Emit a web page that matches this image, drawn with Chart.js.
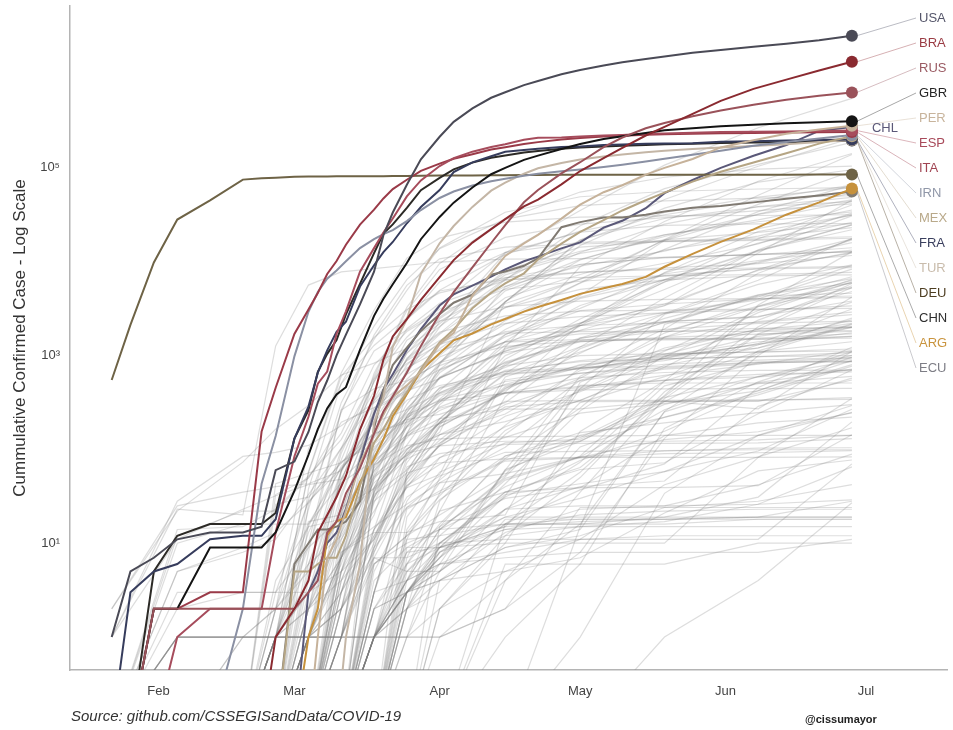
<!DOCTYPE html>
<html>
<head>
<meta charset="utf-8">
<script src="https://cdn.jsdelivr.net/npm/chart.js@4.4.1/dist/chart.umd.min.js"></script>
<style>
  html, body { margin: 0; padding: 0; background: #fff; }
  #wrap { width: 953px; height: 730px; }
</style>
</head>
<body>
<div id="wrap"><canvas id="c" width="953" height="730"></canvas></div>
<script>
// day of year 2020 (Jan 1 = 1)
const H_DAYS = [22, 26, 31, 36, 43, 50, 54, 57, 61, 64,
  66, 68, 70, 72, 75, 78, 80, 82, 85, 88,
  92, 95, 99, 103, 106, 110, 113, 118, 122, 127,
  131, 136, 140, 146, 152, 159, 166, 173, 180];

const usa = [1, 5, 7, 11, 13, 13, 15, 60, 74, 153,
  319, 541, 1000, 1670, 3500, 7800, 19100, 33300, 65800, 123000,
  213600, 308000, 429000, 556000, 636000, 759000, 840000, 988000, 1100000, 1230000,
  1330000, 1440000, 1530000, 1680000, 1790000, 1940000, 2090000, 2280000, 2550000];
const bra = [0, 0, 0, 0, 0, 0, 0, 1, 2, 4,
  13, 20, 31, 52, 162, 372, 904, 1593, 2433, 3904,
  6836, 10360, 15927, 22192, 28320, 38654, 45757, 66501, 92202, 126611,
  162699, 220291, 271885, 374898, 514849, 691758, 867624, 1083341, 1344143];
const rus = [0, 0, 2, 2, 2, 2, 2, 2, 2, 3,
  4, 13, 17, 34, 63, 147, 253, 367, 658, 1264,
  2777, 4731, 8672, 15770, 24490, 42853, 57999, 87147, 114431, 165929,
  209688, 262843, 299941, 353427, 405843, 467673, 528267, 583879, 634437];
const gbr = [0, 0, 2, 2, 9, 9, 9, 13, 36, 87,
  164, 273, 384, 459, 1144, 2642, 4014, 5741, 9640, 17312,
  29865, 42477, 61474, 85206, 99483, 121172, 134638, 158348, 178685, 202359,
  216525, 234440, 250138, 262547, 276332, 286294, 296857, 304331, 311965];
const per = [0, 0, 0, 0, 0, 0, 0, 0, 0, 0,
  1, 7, 11, 22, 71, 145, 234, 363, 480, 671,
  1323, 1746, 4342, 7519, 11475, 15628, 19250, 28699, 40459, 54817,
  65015, 84495, 99483, 123979, 164476, 196515, 229736, 254936, 279419];
const esp = [0, 0, 0, 1, 2, 2, 2, 13, 84, 222,
  500, 673, 1695, 2950, 7798, 13910, 20410, 28768, 49515, 73235,
  104118, 126168, 148220, 166019, 177633, 198674, 208389, 209465, 215216, 220325,
  223578, 229540, 232037, 235400, 239479, 241310, 243605, 246272, 248770];
const ita = [0, 0, 2, 2, 3, 3, 155, 453, 1694, 3089,
  4636, 7375, 10149, 15113, 24747, 35713, 47021, 59138, 74386, 92472,
  110574, 124632, 139422, 156363, 165155, 178972, 187327, 199414, 207428, 214457,
  219070, 223885, 226699, 230158, 232997, 234998, 236989, 238499, 240310];
const irn = [0, 0, 0, 0, 0, 2, 43, 139, 978, 2922,
  4747, 6566, 8042, 10075, 13938, 17361, 19644, 21638, 27017, 35408,
  47593, 55743, 64586, 71686, 76389, 82211, 85996, 91472, 95646, 101650,
  107603, 116635, 124603, 137724, 151466, 171789, 187427, 204952, 222669];
const mex = [0, 0, 0, 0, 0, 0, 0, 0, 5, 5,
  6, 7, 7, 12, 41, 118, 164, 251, 405, 717,
  1378, 1890, 3181, 4661, 5847, 7497, 10544, 15529, 20739, 27634,
  35022, 45032, 54346, 71105, 90664, 113619, 142690, 180545, 216852];
const fra = [0, 3, 5, 6, 11, 12, 12, 18, 130, 285,
  656, 1134, 1784, 2284, 5423, 9134, 12612, 16176, 25600, 38105,
  57749, 89953, 113959, 132591, 147863, 154097, 159297, 165842, 168518, 174224,
  176782, 179630, 180933, 182584, 188625, 191102, 194379, 196874, 199473];
const tur = [0, 0, 0, 0, 0, 0, 0, 0, 0, 0,
  0, 0, 0, 1, 6, 191, 359, 1236, 2433, 7402,
  15679, 23934, 38226, 56956, 69392, 86306, 98674, 112261, 122392, 131744,
  138657, 146457, 151615, 157814, 163942, 170132, 178239, 187685, 197239];
const deu = [0, 0, 5, 12, 16, 16, 16, 21, 130, 262,
  670, 1040, 1457, 2745, 5795, 12327, 19848, 24873, 37323, 57695,
  77872, 96092, 113296, 127854, 134753, 145184, 150648, 158758, 164077, 168162,
  171324, 174975, 177778, 180458, 183271, 185674, 187226, 190862, 194458];
const chn = [548, 2116, 9802, 28018, 44802, 74680, 77042, 78191, 79932, 80422,
  80651, 80770, 80921, 80981, 81058, 81156, 81251, 81435, 81749, 81999,
  82361, 82575, 82809, 83134, 83352, 83805, 83868, 83912, 83959, 83970,
  84010, 84038, 84063, 84102, 84128, 84186, 84335, 84573, 84744];
const arg = [0, 0, 0, 0, 0, 0, 0, 0, 0, 1,
  2, 12, 17, 19, 45, 79, 128, 225, 387, 690,
  1054, 1451, 1715, 2142, 2443, 2930, 3288, 3892, 4532, 5208,
  5776, 6879, 8809, 12076, 16214, 22020, 31577, 42785, 59933];
const ecu = [0, 0, 0, 0, 0, 0, 0, 0, 6, 10,
  14, 14, 15, 17, 28, 168, 426, 789, 1211, 1823,
  2748, 3646, 4450, 7257, 7858, 9022, 10850, 23240, 26336, 29559,
  29420, 31467, 34151, 37355, 39098, 42728, 46751, 50640, 55665];
const chl = [0, 0, 0, 0, 0, 0, 0, 0, 0, 3,
  5, 10, 13, 23, 75, 238, 434, 632, 1142, 1909,
  3404, 4471, 5546, 6927, 8273, 10088, 11296, 13813, 16023, 23048,
  27219, 37040, 53617, 73997, 99688, 134150, 174293, 246963, 271982];

// the rest of the world, sparser sampling
const G_DAYS = [22, 36, 50, 57, 64, 71, 78, 85, 92, 106, 122, 140, 160, 180];
const otherNames = ['CAN', 'IND', 'PAK', 'SAU', 'BGD', 'ZAF', 'QAT', 'COL', 'BEL', 'SWE', 'NLD', 'EGY', 'IDN', 'ARE', 'SGP', 'PRT', 'POL', 'CHE', 'JPN', 'KOR',
  'NPL', 'KHM', 'LKA', 'VNM', 'THA', 'MYS', 'AUS', 'FIN', 'PHL', 'ISR', 'IRL', 'AUT', 'DNK', 'NOR', 'CZE', 'MAR', 'DZA', 'NGA', 'GHA', 'KEN',
  'ETH', 'CUB', 'NZL', 'ISL', 'VEN', 'CRI', 'URY', 'JOR', 'LBN', 'MNG', 'FJI', 'LAO', 'PNG', 'BTN', 'TLS', 'VAT', 'BLZ', 'GRD', 'DMA', 'KNA',
  'ESH', 'BDI', 'KAZ', 'BLR', 'UKR', 'ROU', 'BOL', 'PAN', 'DOM', 'GTM', 'HTI', 'IRQ', 'AFG', 'MDG', 'SMR', 'AND', 'LIE', 'MCO', 'SYC', 'ATG',
  'BRB', 'GMB', 'BWA', 'MWI', 'SUR', 'MUS', 'BRN', 'MNE', 'GRC', 'HUN', 'TUN', 'SVK', 'HRV', 'SEN', 'CMR', 'SDN', 'SLV', 'HND', 'PRY', 'ARM',
  'KWT', 'OMN', 'BHR', 'SRB', 'MDA', 'AZE', 'BIH', 'MKD', 'BGR', 'SVN', 'LTU', 'LVA', 'EST', 'LUX', 'CYP', 'MLT', 'ALB', 'GEO', 'UZB', 'KGZ',
  'TJK', 'CIV', 'COD', 'GIN', 'MLI', 'NER', 'BFA', 'GAB', 'ZWE', 'UGA', 'RWA', 'TZA', 'MOZ', 'AGO', 'NAM', 'SWZ', 'LSO', 'COM', 'YEM', 'SSD',
  'STP', 'SYR', 'LBY', 'SOM', 'DJI', 'MRT', 'TCD', 'CAF', 'JAM', 'TTO', 'BHS', 'GUY', 'NIC', 'MMR', 'MDV', 'TWN', 'XKX', 'GNQ', 'LBR', 'SLE',
  'TGO', 'BEN', 'ERI', 'CPV', 'GNB', 'LCA', 'VCT'];
const otherValues = [
  [0, 5, 8, 11, 33, 103, 598, 3251, 9560, 28379, 55061, 79112, 96653, 103918],
  [0, 3, 3, 3, 28, 62, 151, 657, 1998, 12322, 35043, 106475, 266598, 548318],
  [0, 0, 0, 2, 5, 20, 247, 1063, 2039, 6505, 16817, 45898, 103671, 206512],
  [0, 0, 0, 0, 1, 21, 238, 900, 1720, 6380, 24097, 59854, 108571, 186436],
  [0, 0, 0, 0, 0, 3, 14, 39, 54, 1231, 8790, 26738, 71675, 141801],
  [0, 0, 0, 0, 1, 13, 116, 709, 1380, 2506, 5951, 17200, 50879, 138134],
  [0, 0, 0, 0, 8, 262, 442, 537, 835, 3711, 14872, 37097, 70158, 95106],
  [0, 0, 0, 0, 0, 9, 93, 470, 1065, 3233, 6507, 16935, 40719, 91769],
  [0, 1, 1, 1, 23, 314, 1486, 4937, 13964, 33573, 49032, 55791, 59348, 61361],
  [0, 1, 1, 2, 101, 500, 1279, 2526, 4947, 11927, 21092, 31523, 45133, 65137],
  [0, 0, 0, 0, 38, 503, 2051, 6438, 13696, 28316, 39512, 44249, 47335, 50273],
  [0, 0, 1, 1, 2, 60, 196, 456, 710, 2350, 5895, 13484, 34079, 65188],
  [0, 0, 0, 0, 2, 34, 227, 790, 1677, 5136, 10551, 18496, 32033, 54010],
  [0, 5, 9, 13, 27, 74, 113, 248, 814, 5365, 12481, 25063, 38642, 48246],
  [1, 28, 84, 93, 110, 178, 313, 631, 1000, 3699, 17101, 28794, 38296, 43459],
  [0, 0, 0, 0, 4, 59, 642, 2995, 8251, 18091, 25045, 29432, 34885, 41189],
  [0, 0, 0, 0, 1, 31, 251, 1051, 2554, 7582, 12877, 19268, 26561, 33907],
  [0, 0, 0, 1, 58, 652, 3028, 10897, 17768, 26336, 29705, 30694, 30965, 31555],
  [2, 22, 73, 164, 293, 620, 829, 1193, 2178, 8100, 14281, 16385, 17210, 18390],
  [1, 23, 20, 1261, 5621, 7755, 8413, 9137, 9887, 10613, 10774, 11110, 11852, 12757],
  [0, 1, 1, 1, 1, 1, 1, 3, 5, 16, 57, 375, 3448, 12772],
  [0, 1, 1, 1, 1, 3, 35, 91, 109, 122, 122, 122, 126, 141],
  [0, 1, 1, 1, 1, 2, 53, 102, 143, 238, 690, 1027, 1835, 2037],
  [0, 10, 16, 16, 16, 44, 76, 141, 212, 268, 270, 324, 331, 355],
  [2, 25, 35, 40, 43, 59, 212, 934, 1771, 2643, 2960, 3033, 3119, 3169],
  [0, 12, 22, 22, 50, 149, 790, 1796, 2908, 5072, 6176, 6978, 8336, 8634],
  [0, 14, 15, 23, 52, 127, 568, 2423, 4862, 6447, 6765, 7068, 7265, 7686],
  [0, 1, 1, 2, 6, 59, 336, 880, 1446, 3237, 5051, 6399, 7040, 7209],
  [0, 2, 3, 3, 3, 49, 202, 636, 2311, 5453, 8928, 12942, 22474, 35455],
  [0, 0, 0, 2, 15, 77, 529, 2369, 6092, 12501, 16004, 16659, 17863, 23025],
  [0, 0, 0, 0, 6, 43, 557, 1564, 3447, 12547, 20612, 24315, 25201, 25437],
  [0, 0, 0, 2, 29, 246, 1646, 5588, 10711, 14226, 15402, 16321, 16843, 17723],
  [0, 0, 0, 1, 10, 264, 1115, 1862, 3107, 6681, 9311, 11117, 11948, 12675],
  [0, 0, 0, 1, 56, 598, 1552, 3084, 4641, 6740, 7738, 8257, 8547, 8879],
  [0, 0, 0, 0, 5, 91, 522, 1925, 3589, 6303, 7689, 8586, 9529, 11603],
  [0, 0, 0, 0, 1, 6, 54, 225, 654, 1888, 4569, 7133, 8437, 12290],
  [0, 0, 0, 1, 17, 20, 74, 302, 847, 2160, 4154, 7377, 10265, 13273],
  [0, 0, 0, 0, 1, 2, 8, 51, 174, 407, 2170, 6401, 12801, 24567],
  [0, 0, 0, 0, 0, 0, 11, 93, 195, 641, 2074, 6096, 9910, 17351],
  [0, 0, 0, 0, 0, 0, 3, 28, 81, 225, 411, 963, 2862, 6070],
  [0, 0, 0, 0, 0, 0, 6, 12, 29, 85, 133, 365, 2020, 5846],
  [0, 0, 0, 0, 0, 4, 11, 57, 212, 814, 1537, 1900, 2200, 2325],
  [0, 0, 0, 0, 3, 5, 20, 205, 708, 1386, 1479, 1503, 1504, 1528],
  [0, 0, 0, 0, 26, 103, 330, 737, 1135, 1727, 1797, 1802, 1807, 1836],
  [0, 0, 0, 0, 0, 0, 36, 91, 143, 197, 331, 749, 2377, 5530],
  [0, 0, 0, 0, 0, 22, 69, 201, 375, 626, 719, 882, 1342, 3130],
  [0, 0, 0, 0, 0, 0, 79, 217, 338, 483, 648, 738, 845, 936],
  [0, 0, 0, 0, 1, 1, 69, 172, 274, 401, 453, 613, 808, 1121],
  [0, 0, 1, 1, 13, 66, 133, 333, 479, 641, 729, 931, 1331, 1745],
  [0, 0, 0, 0, 0, 1, 6, 10, 14, 30, 39, 140, 191, 220],
  [0, 0, 0, 0, 0, 0, 1, 5, 5, 16, 18, 18, 18, 18],
  [0, 0, 0, 0, 0, 0, 0, 3, 9, 19, 19, 19, 19, 19],
  [0, 0, 0, 0, 0, 0, 1, 1, 1, 2, 8, 8, 8, 11],
  [0, 0, 0, 0, 1, 1, 1, 3, 4, 5, 7, 21, 59, 77],
  [0, 0, 0, 0, 0, 0, 0, 1, 1, 2, 24, 24, 24, 24],
  [0, 0, 0, 0, 0, 0, 1, 4, 6, 8, 11, 12, 12, 12],
  [0, 0, 0, 0, 0, 0, 0, 2, 3, 18, 18, 18, 19, 28],
  [0, 0, 0, 0, 0, 0, 0, 9, 9, 14, 20, 22, 23, 23],
  [0, 0, 0, 0, 0, 0, 0, 11, 12, 16, 16, 16, 18, 18],
  [0, 0, 0, 0, 0, 0, 0, 2, 8, 14, 15, 15, 15, 15],
  [0, 0, 0, 0, 0, 0, 0, 0, 0, 6, 6, 6, 10, 10],
  [0, 0, 0, 0, 0, 0, 0, 0, 2, 5, 11, 42, 83, 170],
  [0, 0, 0, 0, 0, 0, 37, 111, 343, 1295, 3402, 6440, 13158, 21819],
  [0, 0, 0, 1, 6, 12, 51, 86, 152, 3728, 16705, 33371, 48630, 61475],
  [0, 0, 0, 0, 1, 1, 14, 145, 804, 3764, 10406, 19230, 27856, 43628],
  [0, 0, 0, 1, 4, 48, 246, 906, 2460, 7216, 12240, 17036, 20479, 25286],
  [0, 0, 0, 0, 0, 3, 12, 39, 115, 441, 1230, 4088, 13358, 30676],
  [0, 0, 0, 0, 0, 14, 137, 558, 1181, 3574, 6532, 9606, 15463, 32785],
  [0, 0, 0, 0, 1, 5, 34, 392, 1284, 4126, 7288, 13223, 18708, 31373],
  [0, 0, 0, 0, 0, 1, 9, 24, 47, 180, 735, 1912, 7502, 17409],
  [0, 0, 0, 0, 0, 0, 2, 8, 15, 40, 85, 533, 3334, 5975],
  [0, 0, 0, 26, 31, 71, 192, 266, 694, 1400, 2219, 3404, 12366, 45402],
  [0, 0, 0, 1, 1, 7, 22, 84, 192, 784, 2171, 7653, 20917, 31238],
  [0, 0, 0, 0, 0, 0, 0, 19, 57, 117, 128, 322, 1052, 2138],
  [0, 0, 0, 0, 16, 63, 144, 208, 236, 397, 580, 658, 692, 698],
  [0, 0, 0, 0, 1, 1, 39, 188, 390, 673, 745, 761, 852, 855],
  [0, 0, 0, 0, 0, 4, 28, 56, 72, 79, 82, 82, 82, 83],
  [0, 0, 0, 0, 1, 2, 7, 31, 52, 93, 95, 97, 99, 99],
  [0, 0, 0, 0, 0, 0, 7, 7, 10, 11, 11, 11, 11, 70],
  [0, 0, 0, 0, 0, 0, 1, 3, 7, 23, 25, 25, 26, 65],
  [0, 0, 0, 0, 0, 0, 5, 24, 34, 75, 81, 90, 92, 97],
  [0, 0, 0, 0, 0, 0, 1, 3, 4, 9, 12, 24, 28, 42],
  [0, 0, 0, 0, 0, 0, 0, 0, 4, 13, 23, 25, 42, 89],
  [0, 0, 0, 0, 0, 0, 0, 0, 0, 16, 37, 70, 455, 1224],
  [0, 0, 0, 0, 0, 0, 1, 8, 9, 10, 10, 10, 82, 347],
  [0, 0, 0, 0, 0, 0, 3, 48, 143, 324, 332, 332, 337, 341],
  [0, 0, 0, 0, 0, 1, 68, 109, 129, 136, 138, 141, 141, 141],
  [0, 0, 0, 0, 0, 0, 3, 52, 109, 283, 322, 324, 324, 548],
  [0, 0, 0, 1, 9, 99, 418, 821, 1314, 2192, 2591, 2840, 3058, 3376],
  [0, 0, 0, 0, 2, 13, 58, 226, 585, 1579, 2998, 3535, 4007, 4135],
  [0, 0, 0, 0, 1, 7, 39, 173, 455, 780, 994, 1045, 1087, 1172],
  [0, 0, 0, 0, 0, 7, 105, 216, 400, 835, 1403, 1511, 1530, 1700],
  [0, 0, 0, 3, 9, 19, 81, 442, 963, 1791, 2085, 2232, 2247, 2725],
  [0, 0, 0, 0, 2, 4, 31, 99, 190, 314, 1182, 2480, 4427, 6586],
  [0, 0, 0, 0, 0, 2, 10, 72, 193, 996, 2077, 3529, 8060, 12592],
  [0, 0, 0, 0, 0, 0, 1, 3, 7, 32, 442, 2728, 5714, 9257],
  [0, 0, 0, 0, 0, 0, 1, 13, 32, 159, 424, 1112, 3015, 6438],
  [0, 0, 0, 0, 0, 2, 12, 52, 172, 426, 1055, 2798, 6327, 17658],
  [0, 0, 0, 0, 0, 5, 11, 41, 69, 174, 333, 786, 1202, 1987],
  [0, 0, 0, 1, 1, 1, 84, 249, 571, 1111, 2210, 5041, 13130, 24645],
  [0, 0, 0, 43, 56, 72, 148, 195, 317, 1405, 4377, 16764, 31848, 45524],
  [0, 0, 0, 4, 15, 18, 39, 99, 210, 910, 2447, 6043, 17486, 40070],
  [0, 0, 0, 33, 49, 195, 278, 419, 567, 1671, 3170, 7532, 15731, 26239],
  [0, 0, 0, 0, 0, 5, 83, 384, 1060, 4873, 9362, 10919, 11896, 14046],
  [0, 0, 0, 0, 0, 3, 30, 149, 423, 1662, 4052, 6340, 9700, 15900],
  [0, 0, 0, 1, 3, 11, 44, 87, 298, 1197, 1854, 3387, 8191, 17000],
  [0, 0, 0, 0, 2, 7, 63, 176, 579, 1110, 1839, 2290, 2606, 3800],
  [0, 0, 0, 1, 1, 7, 31, 177, 329, 854, 1442, 1817, 3364, 6300],
  [0, 0, 0, 0, 0, 7, 92, 264, 399, 747, 1506, 2292, 2560, 4800],
  [0, 0, 0, 0, 1, 57, 275, 528, 841, 1248, 1429, 1466, 1487, 1600],
  [0, 0, 0, 1, 1, 3, 49, 274, 581, 1070, 1399, 1562, 1689, 1800],
  [0, 0, 0, 0, 1, 16, 86, 221, 446, 675, 879, 1030, 1088, 1116],
  [0, 0, 0, 1, 2, 17, 267, 404, 779, 1400, 1700, 1800, 1940, 1983],
  [0, 0, 0, 0, 2, 7, 345, 1453, 2319, 3307, 3784, 3958, 4030, 4300],
  [0, 0, 0, 0, 0, 2, 67, 132, 320, 695, 857, 922, 970, 996],
  [0, 0, 0, 0, 0, 5, 48, 139, 188, 399, 468, 546, 630, 670],
  [0, 0, 0, 0, 0, 11, 59, 146, 259, 494, 782, 964, 1300, 2400],
  [0, 0, 0, 1, 3, 24, 38, 79, 117, 300, 539, 715, 818, 900],
  [0, 0, 0, 0, 0, 0, 33, 60, 181, 1165, 2086, 2860, 4000, 8300],
  [0, 0, 0, 0, 0, 0, 3, 44, 111, 466, 746, 1138, 1900, 5300],
  [0, 0, 0, 0, 0, 0, 0, 0, 0, 0, 15, 2140, 4400, 5900],
  [0, 0, 0, 0, 0, 1, 9, 80, 194, 626, 1238, 2231, 4200, 9100],
  [0, 0, 0, 0, 0, 1, 14, 48, 109, 267, 572, 1731, 3800, 6900],
  [0, 0, 0, 0, 0, 0, 1, 4, 22, 363, 1537, 2800, 3900, 5300],
  [0, 0, 0, 0, 0, 0, 0, 2, 28, 144, 544, 931, 1600, 2200],
  [0, 0, 0, 0, 0, 0, 0, 7, 34, 548, 728, 920, 970, 1070],
  [0, 0, 0, 0, 0, 2, 27, 146, 282, 528, 645, 806, 890, 950],
  [0, 0, 0, 0, 0, 0, 1, 6, 16, 80, 276, 1567, 3300, 5200],
  [0, 0, 0, 0, 0, 0, 0, 3, 8, 23, 40, 46, 287, 574],
  [0, 0, 0, 0, 0, 0, 0, 14, 44, 55, 83, 264, 600, 870],
  [0, 0, 0, 0, 0, 0, 8, 41, 82, 134, 243, 308, 420, 960],
  [0, 0, 0, 0, 0, 0, 6, 12, 20, 53, 480, 509, 509, 509],
  [0, 0, 0, 0, 0, 0, 0, 3, 10, 31, 76, 156, 424, 880],
  [0, 0, 0, 0, 0, 0, 0, 3, 8, 19, 30, 58, 96, 267],
  [0, 0, 0, 0, 0, 0, 3, 4, 14, 16, 16, 19, 31, 196],
  [0, 0, 0, 0, 0, 0, 1, 4, 9, 15, 106, 220, 400, 800],
  [0, 0, 0, 0, 0, 0, 0, 0, 0, 0, 0, 1, 4, 27],
  [0, 0, 0, 0, 0, 0, 0, 0, 0, 0, 1, 34, 141, 293],
  [0, 0, 0, 0, 0, 0, 0, 0, 0, 1, 6, 167, 524, 1100],
  [0, 0, 0, 0, 0, 0, 0, 0, 1, 4, 35, 347, 1670, 2000],
  [0, 0, 0, 0, 0, 0, 0, 0, 0, 4, 16, 251, 513, 715],
  [0, 0, 0, 0, 0, 0, 0, 5, 10, 33, 43, 58, 141, 248],
  [0, 0, 0, 0, 0, 0, 0, 1, 10, 35, 61, 72, 239, 700],
  [0, 0, 0, 0, 0, 0, 1, 1, 5, 60, 601, 1573, 2300, 2900],
  [0, 0, 0, 0, 0, 0, 1, 11, 49, 591, 1089, 2270, 4300, 4600],
  [0, 0, 0, 0, 0, 0, 1, 2, 6, 7, 8, 131, 1000, 4200],
  [0, 0, 0, 0, 0, 0, 0, 3, 5, 23, 73, 474, 840, 866],
  [0, 0, 0, 0, 0, 0, 1, 3, 6, 12, 50, 411, 1700, 3700],
  [0, 0, 0, 0, 0, 8, 15, 26, 44, 105, 442, 544, 591, 702],
  [0, 0, 0, 0, 0, 0, 9, 65, 90, 113, 116, 116, 117, 130],
  [0, 0, 0, 0, 0, 0, 1, 4, 14, 49, 83, 96, 103, 104],
  [0, 0, 0, 0, 0, 1, 7, 5, 12, 47, 82, 127, 154, 245],
  [0, 0, 0, 0, 0, 0, 1, 2, 4, 9, 14, 254, 1118, 2170],
  [0, 0, 0, 0, 0, 0, 0, 0, 15, 85, 151, 191, 246, 299],
  [0, 0, 0, 0, 0, 8, 13, 13, 17, 20, 519, 1200, 1900, 2300],
  [1, 11, 23, 32, 42, 48, 100, 235, 329, 395, 429, 440, 443, 447],
  [0, 0, 0, 0, 0, 0, 0, 61, 125, 449, 799, 989, 1200, 2500],
  [0, 0, 0, 0, 0, 0, 4, 9, 14, 51, 315, 594, 1300, 2000],
  [0, 0, 0, 0, 0, 0, 2, 3, 7, 59, 141, 219, 380, 770],
  [0, 0, 0, 0, 0, 0, 0, 0, 2, 10, 155, 534, 1100, 1400],
  [0, 0, 0, 0, 0, 1, 1, 23, 36, 77, 123, 301, 500, 600],
  [0, 0, 0, 0, 0, 0, 2, 6, 9, 35, 64, 327, 270, 1100],
  [0, 0, 0, 0, 0, 0, 0, 6, 22, 35, 39, 39, 41, 143],
  [0, 0, 0, 0, 0, 0, 0, 4, 6, 61, 121, 356, 592, 1000],
  [0, 0, 0, 0, 0, 0, 0, 2, 9, 43, 257, 990, 1400, 1600],
  [0, 0, 0, 0, 0, 0, 2, 3, 9, 15, 17, 18, 19, 19],
  [0, 0, 0, 0, 0, 1, 1, 1, 2, 12, 15, 17, 26, 29]
];

const MONTH_TICKS = [32, 61, 92, 122, 153, 183];
const MONTH_LABELS = ['Feb', 'Mar', 'Apr', 'May', 'Jun', 'Jul'];
const Y_TICKS = [10, 1000, 100000];
const Y_TICK_LABELS = ['10\u00b9', '10\u00b3', '10\u2075'];

// highlighted countries, in the order their labels are stacked on the right
const highlight = [
  { code: 'USA', values: usa, color: '#4a4a56', label: '#55566a' },
  { code: 'BRA', values: bra, color: '#8a2a30', label: '#9a3c44' },
  { code: 'RUS', values: rus, color: '#9a525a', label: '#9a5a62' },
  { code: 'GBR', values: gbr, color: '#141414', label: '#252525' },
  { code: 'PER', values: per, color: '#c6b29a', label: '#c8b49c' },
  { code: 'ESP', values: esp, color: '#a64c5c', label: '#a84a5a' },
  { code: 'ITA', values: ita, color: '#9a3a48', label: '#a04452' },
  { code: 'IRN', values: irn, color: '#8a90a3', label: '#9097a8' },
  { code: 'MEX', values: mex, color: '#b5a584', label: '#b9a98a' },
  { code: 'FRA', values: fra, color: '#363c5c', label: '#3a3f5e' },
  { code: 'TUR', values: tur, color: '#c4b6a6', label: '#c9bcac' },
  { code: 'DEU', values: deu, color: '#2c2a26', label: '#4e3e22' },
  { code: 'CHN', values: chn, color: '#6e6346', label: '#2e2e2e' },
  { code: 'ARG', values: arg, color: '#c6913c', label: '#c9943e' },
  { code: 'ECU', values: ecu, color: '#807a72', label: '#7d7d85' },
  { code: 'CHL', values: chl, color: '#5a5878', label: '#5b5878' }
];

const FONT = "'Liberation Sans', Arial, sans-serif";

function toPoints(days, values) {
  // zero counts sit below the axis so they are clipped away on the log scale
  return values.map((v, i) => ({ x: days[i], y: v > 0 ? v : 0.1 }));
}

const datasets = [];
highlight.forEach(c => {
  const last = c.values.length - 1;
  datasets.push({
    label: c.code,
    data: toPoints(H_DAYS, c.values),
    borderColor: c.color,
    backgroundColor: c.color,
    borderWidth: 2,
    pointRadius: ctx => ctx.dataIndex === last ? 6 : 0,
    pointBorderWidth: 0,
    pointHoverRadius: 0
  });
});
otherValues.forEach((vals, i) => {
  datasets.push({
    label: otherNames[i],
    data: toPoints(G_DAYS, vals),
    borderColor: 'rgba(125,125,125,0.26)',
    borderWidth: 1.2,
    pointRadius: 0
  });
});

const endLabels = {
  id: 'endLabels',
  afterDatasetsDraw(chart) {
    const ctx = chart.ctx;
    const area = chart.chartArea;
    ctx.save();
    ctx.font = '13px ' + FONT;
    ctx.textBaseline = 'middle';
    ctx.textAlign = 'left';
    let slot = 0;
    highlight.forEach((c, i) => {
      const meta = chart.getDatasetMeta(i);
      const pt = meta.data[meta.data.length - 1];
      if (c.code === 'CHL') {
        ctx.fillStyle = c.label;
        ctx.fillText(c.code, pt.x + 20, pt.y + 2);
        return;
      }
      const ly = area.top + 12 + slot * 25;
      const lx = area.right - 28;
      slot++;
      ctx.strokeStyle = c.label;
      ctx.globalAlpha = 0.45;
      ctx.lineWidth = 0.9;
      ctx.beginPath();
      ctx.moveTo(pt.x + 5, pt.y);
      ctx.lineTo(lx - 3, ly);
      ctx.stroke();
      ctx.globalAlpha = 1;
      ctx.fillStyle = c.label;
      ctx.fillText(c.code, lx, ly);
    });
    ctx.restore();
  },
  afterDraw(chart) {
    const ctx = chart.ctx;
    ctx.save();
    ctx.fillStyle = '#333';
    ctx.textBaseline = 'middle';
    ctx.font = 'italic 15px ' + FONT;
    ctx.fillText('Source: github.com/CSSEGISandData/COVID-19', 71, 717);
    ctx.font = 'bold 11px ' + FONT;
    ctx.fillStyle = '#222';
    ctx.fillText('@cissumayor', 805, 720);
    ctx.restore();
  }
};

new Chart(document.getElementById('c'), {
  type: 'line',
  data: { datasets: datasets },
  options: {
    responsive: false,
    animation: false,
    events: [],
    layout: { padding: { left: 0, right: 3, top: 4, bottom: 0 } },
    plugins: { legend: { display: false }, tooltip: { enabled: false } },
    elements: { line: { tension: 0 } },
    scales: {
      x: {
        type: 'linear',
        min: 13.1,
        max: 200.3,
        grid: { display: false, drawTicks: false },
        border: { color: '#b4b4b4', width: 1.5 },
        afterFit: s => { s.height = 60; s.paddingLeft = 0; s.paddingRight = 0; },
        afterBuildTicks: s => { s.ticks = MONTH_TICKS.map(v => ({ value: v })); },
        ticks: {
          padding: 14,
          color: '#444',
          font: { family: FONT, size: 13 },
          maxRotation: 0,
          callback: v => MONTH_LABELS[MONTH_TICKS.indexOf(v)]
        }
      },
      y: {
        type: 'logarithmic',
        min: 0.446,
        max: 5.28e6,
        bounds: 'data',
        grid: { display: false, drawTicks: false },
        border: { color: '#b4b4b4', width: 1.5 },
        afterFit: s => { s.width = 70; s.paddingTop = 0; s.paddingBottom = 0; },
        afterBuildTicks: s => { s.ticks = Y_TICKS.map(v => ({ value: v })); },
        ticks: {
          padding: 10,
          color: '#444',
          font: { family: FONT, size: 13 },
          callback: v => Y_TICK_LABELS[Y_TICKS.indexOf(v)]
        },
        title: {
          display: true,
          text: 'Cummulative Confirmed Case - Log Scale',
          color: '#333',
          font: { family: FONT, size: 17 },
          padding: { top: 10, bottom: 0 }
        }
      }
    }
  },
  plugins: [endLabels]
});
</script>
</body>
</html>
